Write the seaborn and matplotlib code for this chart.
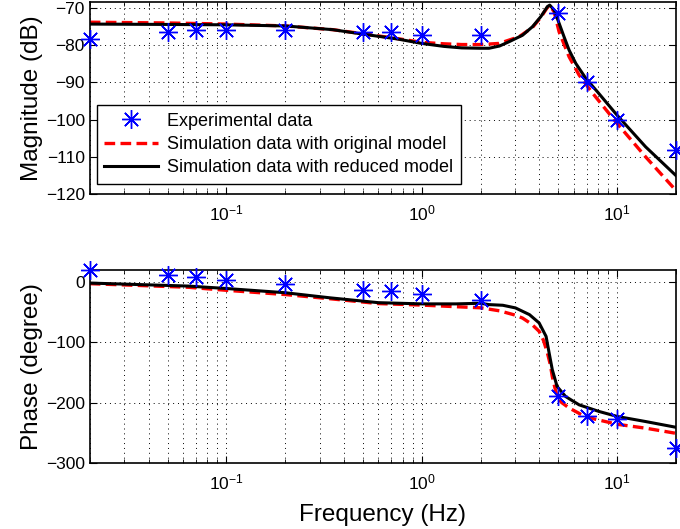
import numpy as np
import pandas as pd
import matplotlib
matplotlib.use('Agg')
import matplotlib.pyplot as plt
from matplotlib.lines import Line2D
from matplotlib.ticker import LogLocator, MultipleLocator, NullFormatter
import seaborn as sns

# experimental data
freq_exp = [0.02, 0.05, 0.07, 0.1, 0.2, 0.5, 0.7, 1.0, 2.0, 5.0, 7.0, 10.0, 20.0]
mag_exp = [-78.4, -76.3, -75.9, -75.9, -76.0, -76.4, -76.5, -77.3, -77.3, -71.2, -89.8, -100.1, -108.2]
phase_exp = [20.4, 11.0, 8.3, 2.7, -2.8, -12.8, -15.0, -20.0, -29.4, -188.4, -223.0, -227.5, -275.6]

# simulation, original model (magnitude)
freq_mag_orig = [0.02, 0.05, 0.1, 0.2, 0.35, 0.5, 0.75, 1.0, 1.3, 1.6, 2.0, 2.49, 3.15, 3.69,
                 4.07, 4.4, 4.52, 4.76, 5.05, 5.68, 6.39, 7.5, 10.0, 14.0, 20.0]
mag_orig = [-73.8, -74.0, -74.3, -74.8, -75.8, -76.9, -78.2, -79.2, -79.6, -79.8, -79.8, -79.5,
            -77.7, -75.2, -72.5, -69.8, -69.3, -71.0, -76.4, -83.1, -88.0, -92.9,
            -101.0, -110.0, -119.0]

# simulation, reduced model (magnitude)
freq_mag_red = [0.02, 0.05, 0.1, 0.2, 0.35, 0.5, 0.75, 1.0, 1.3, 1.6, 2.0, 2.21, 2.5, 2.81, 3.28,
                3.69, 4.07, 4.4, 4.52, 4.76, 5.05, 5.35, 5.68, 6.15, 6.92, 7.93, 10.0, 14.0, 20.0]
mag_red = [-74.3, -74.4, -74.5, -74.8, -75.8, -77.0, -78.3, -79.5, -80.3, -80.7, -80.8, -80.8,
           -80.2, -79.0, -77.3, -75.0, -72.3, -69.6, -69.2, -70.5, -74.1, -77.7, -81.3, -84.9,
           -88.9, -92.5, -98.8, -107.3, -115.0]

# simulation phase, original model
freq_ph_orig = [0.02, 0.064, 0.1, 0.2, 0.34, 0.6, 1.0, 1.6, 2.0, 2.5, 3.0, 3.28, 3.65, 3.99, 4.2,
                4.4, 4.55, 4.66, 4.8, 4.93, 5.2, 5.68, 6.92, 10.0, 14.0, 20.0]
phase_orig = [-3, -9, -14, -21, -28, -36, -38.5, -41.6, -43, -48, -55, -60, -70, -82, -97,
              -118, -137, -157, -175, -190, -200, -209, -224, -236, -242.5, -251]

# simulation phase, reduced model
freq_ph_red = [0.02, 0.064, 0.1, 0.2, 0.34, 0.6, 1.0, 1.5, 2.0, 2.21, 2.6, 3.02, 3.56, 3.99, 4.33,
               4.49, 4.66, 4.93, 5.45, 6.39, 8.1, 10.0, 14.0, 20.0]
phase_red = [-2, -7, -11, -18, -26.5, -34.5, -36.5, -36.5, -35.5, -37.7, -38.8, -43.2, -54.3, -68.1,
             -90.4, -118, -145.7, -173.4, -190, -203.8, -214.9, -223, -231.5, -241]

labels = ['Experimental data', 'Simulation data with original model',
          'Simulation data with reduced model']

plt.rcParams['font.family'] = ['Liberation Sans', 'DejaVu Sans']
plt.rcParams['mathtext.fontset'] = 'custom'
plt.rcParams['mathtext.rm'] = 'Liberation Sans'
plt.rcParams['axes.unicode_minus'] = True

fig = plt.figure(figsize=(6.8, 5.29), dpi=100)
ax1 = fig.add_axes([0.132, 0.633, 0.862, 0.363])
ax2 = fig.add_axes([0.132, 0.125, 0.862, 0.365])

star = (8, 2, 0)
red_dash = (0, (3.2, 1.6))


def draw(ax, f_o, y_o, f_r, y_r, y_e):
    sns.lineplot(x=f_o, y=y_o, ax=ax, color='red', lw=2.4, linestyle=red_dash,
                 estimator=None, sort=False)
    sns.lineplot(x=f_r, y=y_r, ax=ax, color='black', lw=2.2, estimator=None, sort=False)
    ax.plot(freq_exp, y_e, linestyle='none', marker=star, markersize=13.5,
            markeredgewidth=1.0, color='blue', clip_on=False, zorder=5)
    ax.set_xscale('log')
    ax.set_xlim(0.02, 20)
    ax.xaxis.set_major_locator(LogLocator(base=10, numticks=10))
    ax.xaxis.set_minor_locator(LogLocator(base=10, subs=np.arange(2, 10), numticks=20))
    ax.xaxis.set_minor_formatter(NullFormatter())
    ax.tick_params(which='both', direction='in', top=True, right=True, labelsize=12.5)
    ax.tick_params(axis='x', which='major', pad=7)
    ax.tick_params(which='major', length=5)
    ax.tick_params(which='minor', length=3)
    ax.grid(True, which='major', axis='both', color='black', linestyle=(0, (1, 4)), lw=0.7)
    ax.grid(True, which='minor', axis='x', color='black', linestyle=(0, (1, 4)), lw=0.7)
    for s in ax.spines.values():
        s.set_linewidth(1.2)


draw(ax1, freq_mag_orig, mag_orig, freq_mag_red, mag_red, mag_exp)
ax1.set_ylim(-120, -68.4)
ax1.yaxis.set_major_locator(MultipleLocator(10))
ax1.set_ylabel('Magnitude (dB)', fontsize=17.5, labelpad=2)

draw(ax2, freq_ph_orig, phase_orig, freq_ph_red, phase_red, phase_exp)
ax2.set_ylim(-300, 20)
ax2.yaxis.set_major_locator(MultipleLocator(100))
ax2.set_ylabel('Phase (degree)', fontsize=17.5, labelpad=2)
ax2.set_xlabel('Frequency (Hz)', fontsize=17.5, labelpad=8)

handles = [
    Line2D([], [], linestyle='none', marker=star, markersize=13.5, markeredgewidth=1.0, color='blue'),
    Line2D([], [], color='red', lw=2.4, linestyle=red_dash),
    Line2D([], [], color='black', lw=2.2),
]
leg = ax1.legend(handles, labels, loc='lower left', bbox_to_anchor=(0.012, 0.055),
                 fontsize=13, frameon=True, fancybox=False, edgecolor='black',
                 framealpha=1, handlelength=3.0, handletextpad=0.5, borderpad=0.4,
                 labelspacing=0.35, borderaxespad=0)
leg.get_frame().set_linewidth(1.0)

fig.savefig('out.png', dpi=100)
